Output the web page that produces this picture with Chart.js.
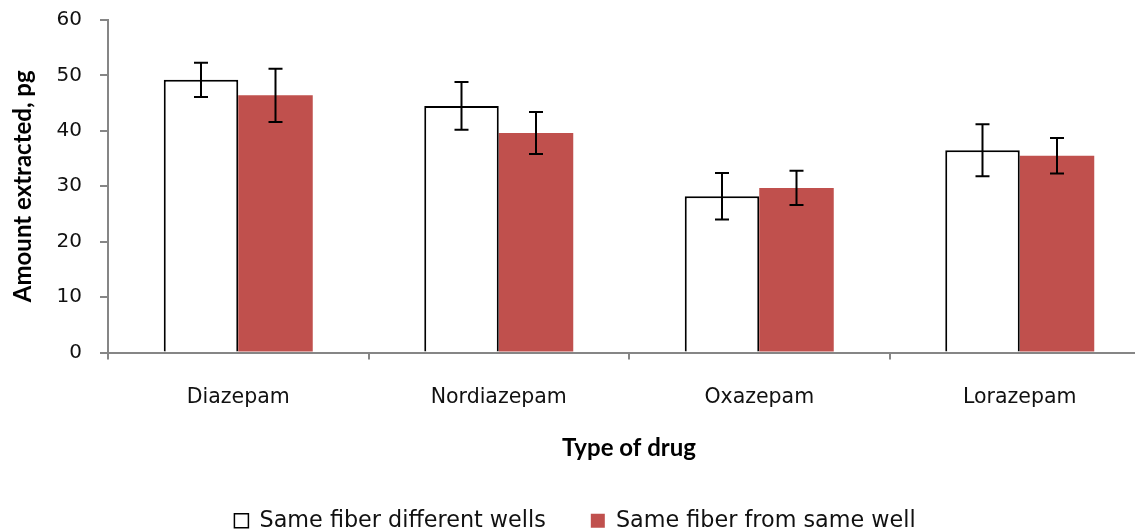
<!DOCTYPE html>
<html>
<head>
<meta charset="utf-8">
<script src="https://cdn.jsdelivr.net/npm/chart.js@4/dist/chart.umd.min.js"></script>
<style>
  html, body { margin: 0; padding: 0; background: #fff; overflow: hidden; }
  #wrap { width: 1160px; height: 532px; }
</style>
</head>
<body>
<div id="wrap"><canvas id="chart" width="1160" height="532"></canvas></div>
<script>
// drugs on the x axis
const drugs = ["Diazepam", "Nordiazepam", "Oxazepam", "Lorazepam"];

// amount extracted (pg) and error (±)
const diffWells = [49.2, 44.5, 28.2, 36.5];
const diffWellsErr = [3.1, 4.3, 4.2, 4.7];
const sameWell = [46.4, 39.6, 29.7, 35.5];
const sameWellErr = [4.8, 3.8, 3.1, 3.2];

const yTicks = [0, 10, 20, 30, 40, 50, 60];

const axisGray = "#868686";
const redFill = "#C0504D";

// draws the ± error whiskers on top of each bar
const errorBars = {
  id: "errorBars",
  afterDatasetsDraw(chart) {
    const ctx = chart.ctx;
    const y = chart.scales.y;
    chart.data.datasets.forEach((ds, i) => {
      const meta = chart.getDatasetMeta(i);
      meta.data.forEach((bar, j) => {
        const v = ds.data[j];
        const e = ds.errors[j];
        const top = y.getPixelForValue(v + e);
        const bot = y.getPixelForValue(v - e);
        ctx.save();
        ctx.strokeStyle = "#000";
        ctx.lineWidth = 2;
        ctx.beginPath();
        ctx.moveTo(bar.x, top);
        ctx.lineTo(bar.x, bot);
        ctx.moveTo(bar.x - 7, top);
        ctx.lineTo(bar.x + 7, top);
        ctx.moveTo(bar.x - 7, bot);
        ctx.lineTo(bar.x + 7, bot);
        ctx.stroke();
        ctx.restore();
      });
    });
  }
};

new Chart(document.getElementById("chart"), {
  type: "bar",
  data: {
    labels: drugs,
    datasets: [
      {
        label: "Same fiber different wells",
        data: diffWells,
        errors: diffWellsErr,
        backgroundColor: "#fff",
        borderColor: "#000",
        borderWidth: { top: 2, left: 2, right: 2, bottom: 0 },
        borderSkipped: false
      },
      {
        label: "Same fiber from same well",
        data: sameWell,
        errors: sameWellErr,
        backgroundColor: redFill,
        borderColor: redFill,
        borderWidth: 0
      }
    ]
  },
  options: {
    responsive: false,
    animation: false,
    categoryPercentage: 0.572,
    barPercentage: 1.0,
    layout: { padding: { top: 20, right: 10, left: 0, bottom: -10 } },
    plugins: {
      tooltip: { enabled: false },
      legend: {
        position: "bottom",
        labels: {
          color: "#111",
          font: { family: "'DejaVu Sans', sans-serif", size: 22.3 },
          boxWidth: 14,
          boxHeight: 14,
          padding: 45
        }
      }
    },
    scales: {
      x: {
        border: { color: axisGray, width: 2 },
        grid: { drawOnChartArea: false, color: axisGray, lineWidth: 2, tickLength: 7, offset: true },
        ticks: {
          color: "#111",
          padding: 26,
          font: { family: "'DejaVu Sans', sans-serif", size: 20.5 }
        },
        title: {
          display: true,
          text: "Type of drug",
          color: "#000",
          padding: { top: 0, bottom: 2.3 },
          font: { family: "Lato, sans-serif", size: 24, weight: "bold" }
        },
        afterFit(scale) {
          scale.height = 112.2;
          scale.paddingLeft = 0;
          scale.paddingRight = 0;
        }
      },
      y: {
        min: 0,
        max: 60,
        afterBuildTicks(scale) {
          scale.ticks = yTicks.map(v => ({ value: v }));
        },
        border: { color: axisGray, width: 2 },
        grid: { drawOnChartArea: false, color: axisGray, lineWidth: 2, tickLength: 8 },
        ticks: {
          color: "#111",
          padding: 18,
          font: { family: "'DejaVu Sans', sans-serif", size: 20 }
        },
        title: {
          display: true,
          text: "Amount extracted, pg",
          color: "#000",
          padding: { top: 8.5, bottom: 0 },
          font: { family: "Lato, sans-serif", size: 24, weight: "bold" }
        },
        afterFit(scale) {
          scale.width = 108;
          scale.paddingTop = 0;
          scale.paddingBottom = 0;
        }
      }
    }
  },
  plugins: [errorBars]
});
</script>
</body>
</html>
